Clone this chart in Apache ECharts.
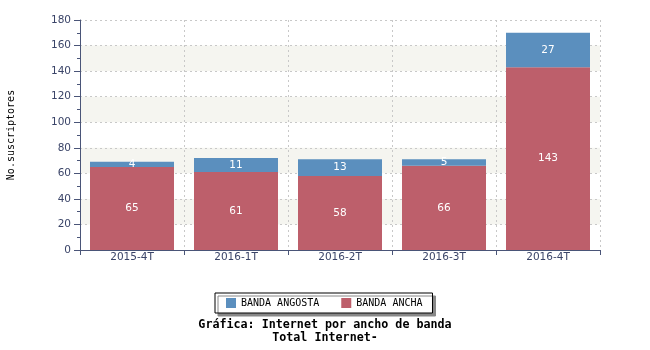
<!DOCTYPE html>
<html>
<head>
<meta charset="utf-8">
<script src="https://cdn.jsdelivr.net/npm/echarts@6/dist/echarts.min.js"></script>
<style>html,body{margin:0;padding:0;background:#fff;}#c{width:650px;height:350px;}</style>
</head>
<body>
<div id="c"></div>
<script>
var categories = ['2015-4T', '2016-1T', '2016-2T', '2016-3T', '2016-4T'];
var bandaAncha = [65, 61, 58, 66, 143];
var bandaAngosta = [4, 11, 13, 5, 27];
var yTicks = [0, 20, 40, 60, 80, 100, 120, 140, 160, 180];

var axisColor = '#4a5578';
var textColor = '#3a4468';
var chart = echarts.init(document.getElementById('c'), null, {renderer: 'canvas'});
chart.setOption({
  animation: false,
  backgroundColor: '#ffffff',
  title: {
    text: 'Gráfica: Internet por ancho de banda\nTotal Internet-',
    left: 320, top: 313, textAlign: 'center',
    textStyle: {fontFamily: 'DejaVu Sans Mono', fontWeight: 'bold', fontSize: 11.7, lineHeight: 13, color: '#000'}
  },
  legend: {
    data: ['BANDA ANGOSTA', 'BANDA ANCHA'],
    left: 215, top: 293,
    padding: [5, 10, 5, 11],
    itemGap: 22, itemWidth: 10, itemHeight: 10,
    icon: 'rect',
    borderColor: '#000', borderWidth: 1, backgroundColor: '#fff',
    shadowColor: '#888', shadowOffsetX: 3, shadowOffsetY: 3, shadowBlur: 0,
    textStyle: {fontFamily: 'DejaVu Sans Mono', fontSize: 10, color: '#000'}
  },
  grid: {left: 80, right: 50, top: 20, bottom: 100, containLabel: false, outerBoundsMode: 'none'},
  xAxis: {
    type: 'category', data: categories,
    axisLine: {lineStyle: {color: axisColor, width: 1}},
    axisTick: {show: true, length: 5, lineStyle: {color: axisColor}},
    axisLabel: {fontFamily: 'DejaVu Sans', fontSize: 10.5, color: textColor, margin: 2},
    splitLine: {show: true, lineStyle: {color: '#c8c8c8', type: [2, 3]}}
  },
  yAxis: {
    type: 'value', min: yTicks[0], max: yTicks[yTicks.length - 1], interval: 20,
    name: 'No.suscriptores', nameLocation: 'middle', nameGap: 64, nameRotate: 90,
    nameTextStyle: {fontFamily: 'DejaVu Sans Mono', fontSize: 10, color: '#000'},
    axisLine: {show: true, lineStyle: {color: axisColor, width: 1}},
    axisTick: {show: true, length: 6, lineStyle: {color: axisColor}},
    minorTick: {show: true, splitNumber: 2, length: 3, lineStyle: {color: axisColor}},
    axisLabel: {fontFamily: 'DejaVu Sans', fontSize: 10.5, color: textColor, margin: 9},
    splitLine: {show: true, lineStyle: {color: '#c8c8c8', type: [2, 3]}},
    splitArea: {show: true, areaStyle: {color: ['rgba(255,255,255,0)', '#f5f5f0']}}
  },
  series: [
    {
      name: 'BANDA ANCHA', type: 'bar', stack: 'total', data: bandaAncha, barWidth: 84,
      itemStyle: {color: '#bd5f6b'},
      label: {show: true, position: 'inside', color: '#fff', fontFamily: 'DejaVu Sans', fontSize: 10.5}
    },
    {
      name: 'BANDA ANGOSTA', type: 'bar', stack: 'total', data: bandaAngosta, barWidth: 84,
      itemStyle: {color: '#5b8fbe'},
      label: {show: true, position: 'inside', color: '#fff', fontFamily: 'DejaVu Sans', fontSize: 10.5}
    }
  ]
});
</script>
</body>
</html>
